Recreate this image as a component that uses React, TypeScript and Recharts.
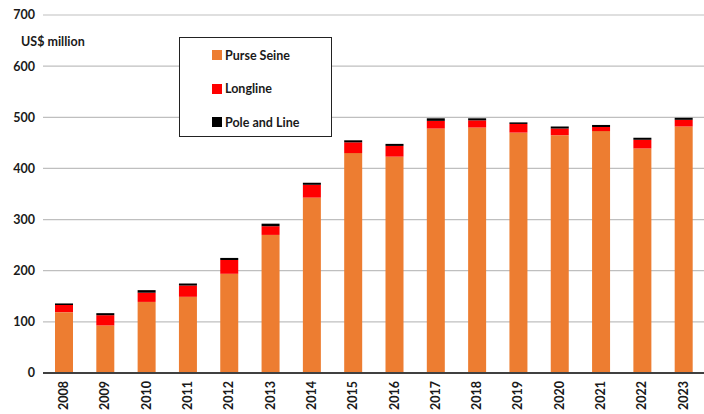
import { BarChart, Bar, XAxis, YAxis, CartesianGrid } from "recharts";

const years = ["2008", "2009", "2010", "2011", "2012", "2013", "2014", "2015", "2016", "2017", "2018", "2019", "2020", "2021", "2022", "2023"];
const purseSeine = [119, 93, 139, 149, 194, 270, 343, 430, 423, 478, 480, 470, 465, 473, 439, 482];
const longline = [14, 20, 18, 22, 27, 17, 25, 21, 21, 15, 14, 17, 13, 8, 17, 13];
const poleAndLine = [3, 4, 5, 4, 4, 5, 4, 4, 4, 5, 4, 3, 4, 4, 4, 4];
const yTicks = [0, 100, 200, 300, 400, 500, 600, 700];

const series = [
  { key: "ps", name: "Purse Seine", color: "#ED7D31" },
  { key: "ll", name: "Longline", color: "#FF0000" },
  { key: "pl", name: "Pole and Line", color: "#000000" },
];

const data = years.map((year, i) => ({
  year,
  ps: purseSeine[i],
  ll: longline[i],
  pl: poleAndLine[i],
}));

const FONT = "Lato, 'Liberation Sans', sans-serif";

function YearTick(props: any) {
  const { x, y, payload } = props;
  return (
    <text
      x={x}
      y={y}
      transform={`rotate(-90 ${x} ${y})`}
      textAnchor="end"
      dy="0.35em"
      fontFamily={FONT}
      fontWeight={700}
      fontSize={12.5}
      fill="#1a1a1a"
    >
      {payload.value}
    </text>
  );
}

// legend is a plain box laid over the plot area
function LegendBox() {
  return (
    <div
      style={{
        position: "absolute",
        left: 179,
        top: 37,
        width: 153,
        height: 100,
        border: "1.5px solid #222",
        background: "#fff",
        boxSizing: "border-box",
        fontFamily: FONT,
        fontWeight: 700,
        fontSize: 12.5,
        color: "#1a1a1a",
      }}
    >
      {series.map((s, i) => (
        <div
          key={s.key}
          style={{ position: "absolute", left: 32, top: 9 + i * 33.5, display: "flex", alignItems: "center", height: 16, whiteSpace: "nowrap" }}
        >
          <span style={{ display: "inline-block", width: 10, height: 10, background: s.color, marginRight: 3 }} />
          {s.name}
        </div>
      ))}
    </div>
  );
}

export default function App() {
  return (
    <div style={{ position: "absolute", left: 0, top: 0, width: 704, height: 414, background: "#fff" }}>
      <BarChart width={704} height={414} data={data} margin={{ top: 15, right: 0, bottom: 0, left: 0 }}>
        <CartesianGrid vertical={false} stroke="#bfbfbf" strokeWidth={1.2} />
        <XAxis
          dataKey="year"
          height={41}
          tick={<YearTick />}
          tickLine={false}
          axisLine={{ stroke: "#404040", strokeWidth: 2 }}
          interval={0}
          tickSize={0}
          tickMargin={8}
        />
        <YAxis
          width={43}
          domain={[0, 700]}
          ticks={yTicks}
          tickLine={false}
          axisLine={false}
          interval={0}
          tick={{ fontFamily: FONT, fontWeight: 700, fontSize: 12.5, fill: "#1a1a1a" }}
        />
        {series.map((s) => (
          <Bar key={s.key} dataKey={s.key} name={s.name} stackId="a" fill={s.color} barSize={18} isAnimationActive={false} />
        ))}
      </BarChart>
      <LegendBox />
      <div
        style={{
          position: "absolute",
          left: 21,
          top: 34,
          fontFamily: FONT,
          fontWeight: 700,
          fontSize: 12.5,
          color: "#1a1a1a",
        }}
      >
        US$ million
      </div>
    </div>
  );
}
